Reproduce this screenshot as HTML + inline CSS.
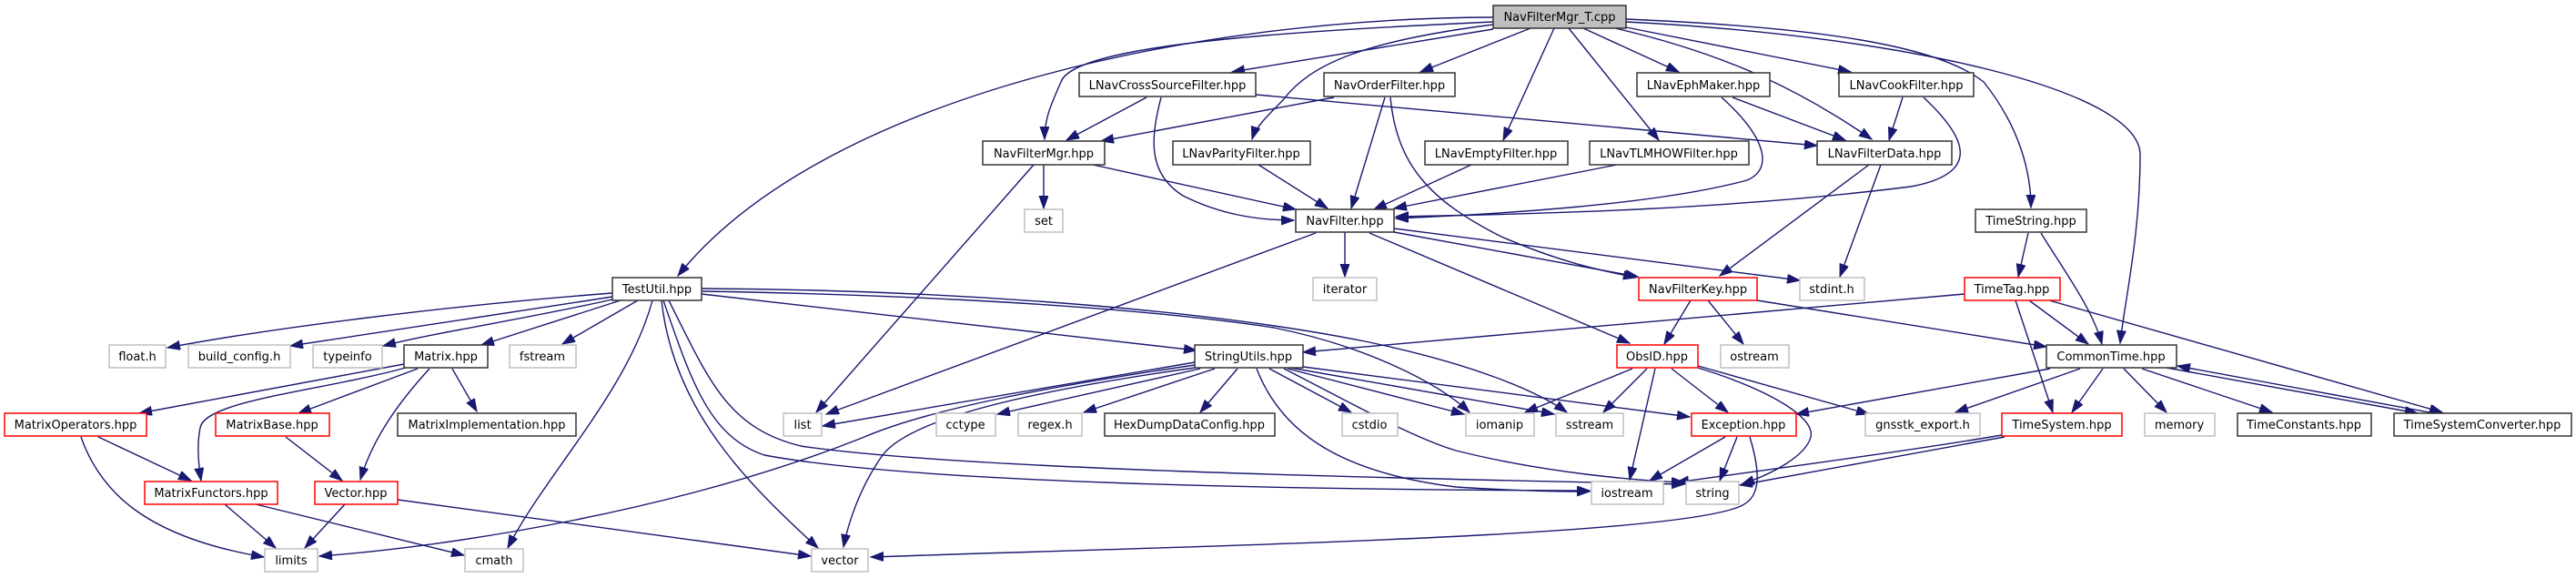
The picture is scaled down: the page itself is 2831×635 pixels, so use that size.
<!DOCTYPE html>
<html><head><meta charset="utf-8"><style>
html,body{margin:0;padding:0;background:#fff;}
svg{display:block;}
text{font-family:"DejaVu Sans","Liberation Sans",sans-serif;font-size:13px;fill:#000;text-anchor:middle;}
.e{fill:none;stroke:#191970;stroke-width:1.4;marker-end:url(#a);}
.nb{fill:#fff;stroke:#333;stroke-width:1.5;}
.ng{fill:#fff;stroke:#bfbfbf;stroke-width:1.5;}
.nr{fill:#fff;stroke:#ff0000;stroke-width:1.5;}
</style></head><body>
<svg width="2831" height="635" viewBox="0 0 2831 635" xmlns="http://www.w3.org/2000/svg">
<defs><marker id="a" markerUnits="userSpaceOnUse" markerWidth="16" markerHeight="12" refX="14" refY="5" orient="auto"><path d="M0,0 L14,5 L0,10 z" fill="#191970" stroke="#191970"/></marker></defs>

<path class="e" d="M1641,19 C1300,20 900,110 745,303"/>
<path class="e" d="M1641,24 C1400,35 1180,50 1166,90 C1155,115 1148,130 1148,153"/>
<path class="e" d="M1641,32 L1354,79"/>
<path class="e" d="M1682,31 L1561,79"/>
<path class="e" d="M1641,27 C1500,45 1440,70 1410,110 C1390,130 1380,140 1376,153"/>
<path class="e" d="M1708,31 L1652,154"/>
<path class="e" d="M1724,31 L1823,154"/>
<path class="e" d="M1740,31 L1845,79"/>
<path class="e" d="M1775,31 C1900,60 1980,100 2057,153"/>
<path class="e" d="M1787,30 L2034,79"/>
<path class="e" d="M1787,21 C2000,30 2130,50 2180,90 C2220,140 2232,190 2232,228"/>
<path class="e" d="M1787,24 C2100,40 2352,100 2352,170 C2352,260 2335,330 2330,377"/>

<path class="e" d="M1260,107 L1172,154"/>
<path class="e" d="M1276,107 C1265,150 1260,190 1300,215 C1340,235 1380,242 1422,242"/>
<path class="e" d="M1380,104 L1997,160"/>
<path class="e" d="M1466,107 L1210,155"/>
<path class="e" d="M1522,107 L1485,229"/>
<path class="e" d="M1528,107 C1535,180 1570,220 1650,260 C1720,290 1760,297 1798,305"/>
<path class="e" d="M1904,107 L2028,154"/>
<path class="e" d="M1892,107 C1940,150 1950,185 1920,198 C1820,225 1650,235 1534,240"/>
<path class="e" d="M2091,107 L2076,154"/>
<path class="e" d="M2114,107 C2160,150 2180,190 2100,205 C1900,230 1700,235 1534,238"/>

<path class="e" d="M1147,181 L1147,229"/>
<path class="e" d="M1201,181 L1424,230"/>
<path class="e" d="M1136,181 L897,453"/>
<path class="e" d="M1383,181 L1459,229"/>
<path class="e" d="M1617,181 L1510,230"/>
<path class="e" d="M1777,181 L1532,229"/>
<path class="e" d="M2054,181 L1890,303"/>
<path class="e" d="M2067,181 L2022,304"/>

<path class="e" d="M1478,255 L1478,304"/>
<path class="e" d="M1446,256 L908,455"/>
<path class="e" d="M1505,256 L1791,377"/>
<path class="e" d="M1532,255 L1800,304"/>
<path class="e" d="M1532,251 L1978,308"/>
<path class="e" d="M2229,256 L2218,304"/>
<path class="e" d="M2243,256 C2270,300 2300,340 2310,378"/>

<path class="e" d="M1858,330 L1829,378"/>
<path class="e" d="M1877,330 L1916,378"/>
<path class="e" d="M1931,330 L2249,381"/>
<path class="e" d="M2159,323 L1432,387"/>
<path class="e" d="M2230,330 L2295,378"/>
<path class="e" d="M2215,330 L2256,453"/>
<path class="e" d="M2252,330 L2684,453"/>

<path class="e" d="M673,322 C500,335 300,360 184,382"/>
<path class="e" d="M673,326 C550,345 420,365 319,380"/>
<path class="e" d="M673,329 C580,350 480,365 421,380"/>
<path class="e" d="M682,330 L529,379"/>
<path class="e" d="M701,330 L618,378"/>
<path class="e" d="M717,330 C690,430 600,520 558,602"/>
<path class="e" d="M727,330 C740,450 820,530 899,602"/>
<path class="e" d="M771,323 L1315,385"/>
<path class="e" d="M771,320 C900,322 1200,330 1400,360 C1500,380 1580,420 1615,453"/>
<path class="e" d="M771,317 C1000,318 1300,335 1500,375 C1620,400 1690,430 1722,453"/>
<path class="e" d="M729,330 C760,420 780,480 840,500 C1000,530 1400,538 1747,539"/>
<path class="e" d="M735,330 C780,420 800,470 880,490 C1050,515 1500,525 1851,532"/>

<path class="e" d="M444,400 L153,454"/>
<path class="e" d="M446,404 C350,430 225,440 220,470 C216,490 218,510 221,528"/>
<path class="e" d="M459,405 L328,454"/>
<path class="e" d="M472,405 C440,440 410,480 396,527"/>
<path class="e" d="M497,405 L524,452"/>
<path class="e" d="M108,480 L210,528"/>
<path class="e" d="M89,480 C110,540 160,590 290,612"/>
<path class="e" d="M314,480 L376,528"/>
<path class="e" d="M247,554 L303,602"/>
<path class="e" d="M281,554 L510,610"/>
<path class="e" d="M379,554 L335,602"/>
<path class="e" d="M437,549 L891,611"/>

<path class="e" d="M1313,398 L904,468"/>
<path class="e" d="M1313,401 C1150,425 1020,450 950,480 C750,560 500,600 351,611"/>
<path class="e" d="M1313,404 C1130,430 1000,460 970,500 C945,535 932,575 927,601"/>
<path class="e" d="M1319,405 L1096,455"/>
<path class="e" d="M1335,405 L1191,453"/>
<path class="e" d="M1360,405 L1319,453"/>
<path class="e" d="M1395,405 L1485,453"/>
<path class="e" d="M1415,405 L1609,455"/>
<path class="e" d="M1418,404 L1708,455"/>
<path class="e" d="M1432,403 L1857,458"/>
<path class="e" d="M1381,405 C1410,480 1480,520 1600,535 C1680,540 1720,540 1747,540"/>
<path class="e" d="M1411,405 C1480,440 1550,480 1600,495 C1700,520 1800,528 1851,530"/>

<path class="e" d="M1794,405 L1676,453"/>
<path class="e" d="M1810,405 L1762,453"/>
<path class="e" d="M1819,405 L1791,527"/>
<path class="e" d="M1837,405 L1899,453"/>
<path class="e" d="M1866,404 C1950,430 1995,460 1990,480 C1985,500 1950,520 1914,532"/>
<path class="e" d="M1866,402 L2054,455"/>

<path class="e" d="M1896,480 L1813,528"/>
<path class="e" d="M1909,480 L1890,528"/>
<path class="e" d="M1923,480 C1935,520 1935,545 1915,555 C1850,590 1300,600 957,612"/>

<path class="e" d="M2253,405 L1974,455"/>
<path class="e" d="M2286,405 L2149,453"/>
<path class="e" d="M2311,405 L2277,453"/>
<path class="e" d="M2334,405 L2381,453"/>
<path class="e" d="M2354,405 L2497,453"/>
<path class="e" d="M2381,404 L2657,454"/>
<path class="e" d="M2675,454 L2393,402"/>

<path class="e" d="M2203,480 L1912,533"/>
<path class="e" d="M2200,478 C2100,495 1950,515 1842,530"/>

<rect x="1641" y="6" width="146" height="25" fill="#bfbfbf" stroke="#333" stroke-width="1.5"/><text x="1714" y="23">NavFilterMgr_T.cpp</text>

<rect class="nb" x="1186" y="80" width="194" height="26"/><text x="1283" y="98">LNavCrossSourceFilter.hpp</text>
<rect class="nb" x="1455" y="80" width="144" height="26"/><text x="1527" y="98">NavOrderFilter.hpp</text>
<rect class="nb" x="1799" y="80" width="146" height="26"/><text x="1872" y="98">LNavEphMaker.hpp</text>
<rect class="nb" x="2021" y="80" width="148" height="26"/><text x="2095" y="98">LNavCookFilter.hpp</text>

<rect class="nb" x="1080" y="155" width="134" height="26"/><text x="1147" y="173">NavFilterMgr.hpp</text>
<rect class="nb" x="1289" y="155" width="151" height="26"/><text x="1364" y="173">LNavParityFilter.hpp</text>
<rect class="nb" x="1566" y="155" width="157" height="26"/><text x="1644" y="173">LNavEmptyFilter.hpp</text>
<rect class="nb" x="1747" y="155" width="175" height="26"/><text x="1834" y="173">LNavTLMHOWFilter.hpp</text>
<rect class="nb" x="1997" y="155" width="148" height="26"/><text x="2071" y="173">LNavFilterData.hpp</text>

<rect class="ng" x="1126" y="230" width="42" height="25"/><text x="1147" y="247">set</text>
<rect class="nb" x="1424" y="230" width="108" height="25"/><text x="1478" y="247">NavFilter.hpp</text>
<rect class="nb" x="2171" y="230" width="122" height="25"/><text x="2232" y="247">TimeString.hpp</text>

<rect class="nb" x="673" y="305" width="98" height="25"/><text x="722" y="322">TestUtil.hpp</text>
<rect class="ng" x="1443" y="305" width="70" height="25"/><text x="1478" y="322">iterator</text>
<rect class="nr" x="1801" y="305" width="130" height="25"/><text x="1866" y="322">NavFilterKey.hpp</text>
<rect class="ng" x="1978" y="305" width="71" height="25"/><text x="2013" y="322">stdint.h</text>
<rect class="nr" x="2159" y="305" width="105" height="25"/><text x="2211" y="322">TimeTag.hpp</text>

<rect class="ng" x="120" y="379" width="62" height="25"/><text x="151" y="396">float.h</text>
<rect class="ng" x="207" y="379" width="112" height="25"/><text x="263" y="396">build_config.h</text>
<rect class="ng" x="344" y="379" width="76" height="25"/><text x="382" y="396">typeinfo</text>
<rect class="nb" x="444" y="379" width="92" height="25"/><text x="490" y="396">Matrix.hpp</text>
<rect class="ng" x="560" y="379" width="73" height="25"/><text x="596" y="396">fstream</text>
<rect class="nb" x="1313" y="379" width="119" height="25"/><text x="1372" y="396">StringUtils.hpp</text>
<rect class="nr" x="1777" y="379" width="89" height="25"/><text x="1821" y="396">ObsID.hpp</text>
<rect class="ng" x="1891" y="379" width="75" height="25"/><text x="1928" y="396">ostream</text>
<rect class="nb" x="2249" y="379" width="143" height="25"/><text x="2320" y="396">CommonTime.hpp</text>

<rect class="nr" x="5" y="454" width="156" height="25"/><text x="83" y="471">MatrixOperators.hpp</text>
<rect class="nr" x="237" y="454" width="125" height="25"/><text x="299" y="471">MatrixBase.hpp</text>
<rect class="nb" x="437" y="454" width="196" height="25"/><text x="535" y="471">MatrixImplementation.hpp</text>
<rect class="ng" x="861" y="454" width="42" height="25"/><text x="882" y="471">list</text>
<rect class="ng" x="1029" y="454" width="65" height="25"/><text x="1061" y="471">cctype</text>
<rect class="ng" x="1119" y="454" width="70" height="25"/><text x="1154" y="471">regex.h</text>
<rect class="nb" x="1214" y="454" width="187" height="25"/><text x="1307" y="471">HexDumpDataConfig.hpp</text>
<rect class="ng" x="1475" y="454" width="61" height="25"/><text x="1505" y="471">cstdio</text>
<rect class="ng" x="1611" y="454" width="75" height="25"/><text x="1648" y="471">iomanip</text>
<rect class="ng" x="1710" y="454" width="74" height="25"/><text x="1747" y="471">sstream</text>
<rect class="nr" x="1859" y="454" width="115" height="25"/><text x="1916" y="471">Exception.hpp</text>
<rect class="ng" x="2050" y="454" width="126" height="25"/><text x="2113" y="471">gnsstk_export.h</text>
<rect class="nr" x="2200" y="454" width="132" height="25"/><text x="2266" y="471">TimeSystem.hpp</text>
<rect class="ng" x="2357" y="454" width="77" height="25"/><text x="2395" y="471">memory</text>
<rect class="nb" x="2459" y="454" width="147" height="25"/><text x="2532" y="471">TimeConstants.hpp</text>
<rect class="nb" x="2631" y="454" width="195" height="25"/><text x="2728" y="471">TimeSystemConverter.hpp</text>

<rect class="nr" x="159" y="529" width="146" height="25"/><text x="232" y="546">MatrixFunctors.hpp</text>
<rect class="nr" x="346" y="529" width="91" height="25"/><text x="391" y="546">Vector.hpp</text>
<rect class="ng" x="1749" y="529" width="79" height="25"/><text x="1788" y="546">iostream</text>
<rect class="ng" x="1853" y="529" width="58" height="25"/><text x="1882" y="546">string</text>

<rect class="ng" x="291" y="603" width="58" height="25"/><text x="320" y="620">limits</text>
<rect class="ng" x="511" y="603" width="64" height="25"/><text x="543" y="620">cmath</text>
<rect class="ng" x="892" y="603" width="62" height="25"/><text x="923" y="620">vector</text>
</svg>
</body></html>
